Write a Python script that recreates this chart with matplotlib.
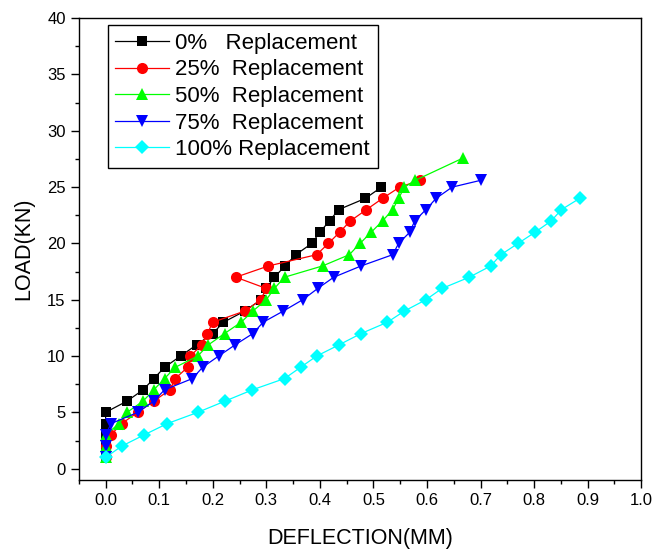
import matplotlib.pyplot as plt
from matplotlib.ticker import MultipleLocator

plt.rcParams['font.family'] = ['Liberation Sans', 'DejaVu Sans']

# load values (kN) and deflections (mm) per replacement level
load_0 = [1, 2, 3, 4, 5, 6, 7, 8, 9, 10, 11, 12, 13, 14, 15, 16, 17, 18, 19, 20, 21, 22, 23, 24, 25]
defl_0 = [0, 0, 0, 0, 0, 0.04, 0.07, 0.09, 0.11, 0.14, 0.17, 0.20, 0.22, 0.26, 0.29, 0.30,
          0.315, 0.335, 0.355, 0.385, 0.40, 0.418, 0.435, 0.485, 0.515]

load_25 = [1, 2, 3, 4, 5, 6, 7, 8, 9, 10, 11, 12, 13, 14, 15, 16, 17, 18, 19, 20, 21, 22, 23, 24, 25, 25.6]
defl_25 = [0, 0, 0.01, 0.03, 0.06, 0.09, 0.12, 0.13, 0.153, 0.158, 0.18, 0.19, 0.20, 0.26, 0.29, 0.30,
           0.243, 0.304, 0.394, 0.416, 0.437, 0.457, 0.487, 0.517, 0.549, 0.587]

load_50 = [1, 2, 3, 4, 5, 6, 7, 8, 9, 10, 11, 12, 13, 14, 15, 16, 17, 18, 19, 20, 21, 22, 23, 24, 25, 25.6, 27.6]
defl_50 = [0, 0, 0, 0.025, 0.04, 0.07, 0.09, 0.11, 0.13, 0.172, 0.192, 0.222, 0.253, 0.275, 0.30, 0.315,
           0.334, 0.405, 0.455, 0.475, 0.496, 0.517, 0.536, 0.547, 0.558, 0.578, 0.668]

load_75 = [1, 2, 3, 4, 5, 6, 7, 8, 9, 10, 11, 12, 13, 14, 15, 16, 17, 18, 19, 20, 21, 22, 23, 24, 25, 25.6]
defl_75 = [0, 0, 0, 0.01, 0.06, 0.09, 0.11, 0.162, 0.181, 0.211, 0.242, 0.275, 0.294, 0.332, 0.368, 0.396,
           0.426, 0.477, 0.536, 0.547, 0.568, 0.577, 0.598, 0.617, 0.647, 0.70]

load_100 = [1, 2, 3, 4, 5, 6, 7, 8, 9, 10, 11, 12, 13, 14, 15, 16, 17, 18, 19, 20, 21, 22, 23, 24]
defl_100 = [0, 0.03, 0.072, 0.115, 0.172, 0.223, 0.274, 0.334, 0.364, 0.394, 0.436, 0.477, 0.526, 0.558,
            0.598, 0.628, 0.679, 0.719, 0.738, 0.770, 0.802, 0.832, 0.851, 0.885]

labels = ['0%   Replacement', '25%  Replacement', '50%  Replacement',
          '75%  Replacement', '100% Replacement']

series = [
    (defl_0, load_0, 'black', 's', 7),
    (defl_25, load_25, '#ff0000', 'o', 8),
    (defl_50, load_50, '#00ff00', '^', 8.5),
    (defl_75, load_75, '#0000ff', 'v', 8.5),
    (defl_100, load_100, '#00ffff', 'D', 7),
]

fig = plt.figure(figsize=(6.57, 5.51), dpi=100)
ax = fig.add_axes([0.120, 0.129, 0.856, 0.838])

for (x, y, c, m, ms), lab in zip(series, labels):
    ax.plot(x, y, color=c, marker=m, markersize=ms, linewidth=0.9,
            markeredgewidth=0, label=lab)

ax.set_xlim(-0.05, 1.0)
ax.set_ylim(-1, 40)
ax.xaxis.set_major_locator(MultipleLocator(0.1))
ax.xaxis.set_minor_locator(MultipleLocator(0.05))
ax.yaxis.set_major_locator(MultipleLocator(5))
ax.yaxis.set_minor_locator(MultipleLocator(2.5))
ax.set_xticks([i / 10 for i in range(11)])
ax.set_xticklabels([f'{i / 10:.1f}' for i in range(11)])
ax.tick_params(which='major', direction='out', length=6, width=1, labelsize=12)
ax.tick_params(which='minor', direction='out', length=3, width=1)
for s in ax.spines.values():
    s.set_linewidth(1)

ax.set_xlabel('DEFLECTION(MM)', fontsize=15.5, labelpad=14)
ax.set_ylabel('LOAD(KN)', fontsize=15.5, labelpad=9)

leg = ax.legend(loc='upper left', bbox_to_anchor=(0.051, 0.985), borderaxespad=0,
                fontsize=16, frameon=True, fancybox=False, edgecolor='black', framealpha=1,
                handlelength=2.4, labelspacing=0.25, borderpad=0.35, handletextpad=0.3)
leg.get_frame().set_linewidth(1)

fig.savefig('out.png', dpi=100)
